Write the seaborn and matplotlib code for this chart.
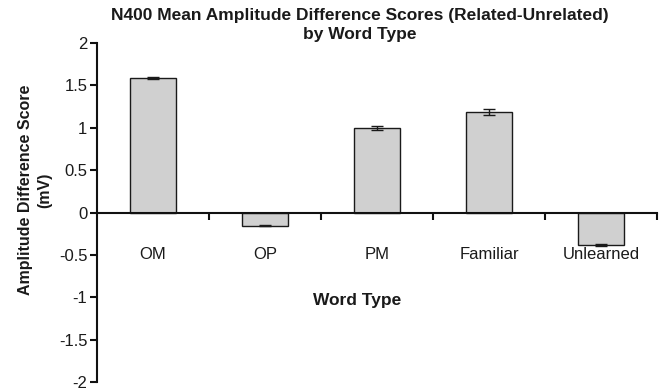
import matplotlib
matplotlib.use("Agg")
import matplotlib.pyplot as plt
import seaborn as sns
import pandas as pd
import numpy as np

categories = ["OM", "OP", "PM", "Familiar", "Unlearned"]
values = [1.59, -0.155, 0.995, 1.185, -0.385]
errors = [0.012, 0.006, 0.025, 0.04, 0.012]
y_ticks = [-2, -1.5, -1, -0.5, 0, 0.5, 1, 1.5, 2]
y_tick_labels = ["-2", "-1.5", "-1", "-0.5", "0", "0.5", "1", "1.5", "2"]

sns.set_style("white")
plt.rcParams["font.family"] = ["Liberation Sans", "DejaVu Sans"]

df = pd.DataFrame({"Word Type": categories, "Score": values})

fig = plt.figure(figsize=(6.65, 3.91), dpi=100)
ax = fig.add_axes([97 / 665, 1 - 382 / 391, 560 / 665, (382 - 43) / 391])

sns.barplot(data=df, x="Word Type", y="Score", order=categories, color="#d0d0d0",
            saturation=1, width=0.41, edgecolor="#1a1a1a", linewidth=1.0,
            errorbar=None, ax=ax)
ax.errorbar(np.arange(len(categories)), values, yerr=errors, fmt="none",
            ecolor="#1a1a1a", elinewidth=1.0, capsize=4, capthick=1.0)

ax.set_xlim(-0.5, len(categories) - 0.5)
ax.set_ylim(-2, 2)
ax.set_yticks(y_ticks)
ax.set_yticklabels(y_tick_labels, fontsize=12, color="#1a1a1a")

ax.spines["top"].set_visible(False)
ax.spines["right"].set_visible(False)
ax.spines["bottom"].set_position(("data", 0))
for s in ["left", "bottom"]:
    ax.spines[s].set_color("#111111")
    ax.spines[s].set_linewidth(1.5)

ax.set_xticks(np.arange(len(categories)))
ax.set_xticklabels(categories, fontsize=12, color="#1a1a1a")
ax.set_xticks(np.arange(len(categories)) + 0.5, minor=True)
ax.tick_params(axis="x", which="major", bottom=True, length=0, pad=25)
ax.tick_params(axis="x", which="minor", bottom=True, length=5, width=1.5,
               direction="out", color="#111111")
ax.tick_params(axis="y", which="major", left=True, length=5, width=1.5,
               direction="out", color="#111111", pad=2)
ax.set_xlabel("")
ax.set_ylabel("")

fig.text(357 / 665, 1 - 300 / 391, "Word Type", ha="center", va="center",
         fontsize=12.5, fontweight="bold", color="#1a1a1a")
fig.text(35 / 665, 1 - 190 / 391, "Amplitude Difference Score\n(mV)", ha="center",
         va="center", rotation=90, multialignment="center", fontsize=11.5,
         fontweight="bold", color="#1a1a1a", linespacing=1.3)
fig.text(360 / 665, 1 - 25 / 391,
         "N400 Mean Amplitude Difference Scores (Related-Unrelated)\nby Word Type",
         ha="center", va="center", multialignment="center", fontsize=12.5,
         fontweight="bold", color="#1a1a1a", linespacing=1.4)

fig.savefig("out.png", dpi=100)
